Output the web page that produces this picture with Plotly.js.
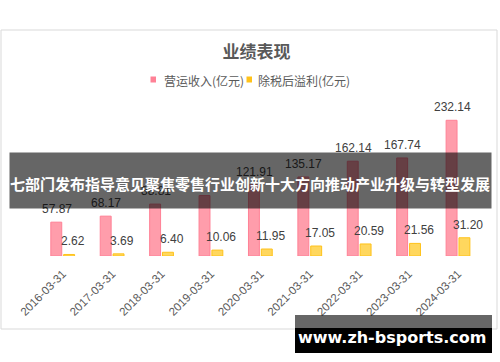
<!DOCTYPE html>
<html>
<head>
<meta charset="utf-8">
<script src="https://cdn.plot.ly/plotly-3.0.1.min.js"></script>
<style>html,body{margin:0;padding:0;background:#fff;}#chart{width:500px;height:362px;}</style>
</head>
<body>
<div id="chart"></div>
<script>
const categories = ["2016-03-31","2017-03-31","2018-03-31","2019-03-31","2020-03-31","2021-03-31","2022-03-31","2023-03-31","2024-03-31"];
const revenue = [57.87, 68.17, 88.81, 103.5, 121.91, 135.17, 162.14, 167.74, 232.14];
const revenueLabels = ["57.87","68.17","88.81","","121.91","135.17","162.14","167.74","232.14"];
const profit = [2.62, 3.69, 6.40, 10.06, 11.95, 17.05, 20.59, 21.56, 31.20];
const profitLabels = ["2.62","3.69","6.40","10.06","11.95","17.05","20.59","21.56","31.20"];
const seriesNames = ["营运收入(亿元)", "除税后溢利(亿元)"];
const seriesColors = ["#ff9dab", "#ffd75e"];
const seriesLineColors = ["#ff8196", "#ffc21a"];
const chartTitle = "业绩表现";
const bannerText = "七部门发布指导意见聚焦零售行业创新十大方向推动产业升级与转型发展";
const watermarkText = "www.zh-bsports.com";

const L = 38, R = 15, T = 104, B = 106, FW = 500, FH = 362;
const W = FW - L - R, H = FH - T - B;
const px = p => (p - L) / W;
const py = p => (FH - B - p) / H;

const font = "Liberation Sans, Arial, Noto Sans CJK SC, sans-serif";
const cjk = "Noto Sans CJK SC, sans-serif";

const traces = [
  {type: "bar", name: seriesNames[0], x: categories, y: revenue, showlegend: false,
   marker: {color: seriesColors[0], line: {color: seriesLineColors[0], width: 1}}, hoverinfo: "none"},
  {type: "bar", name: seriesNames[1], x: categories, y: profit, showlegend: false,
   marker: {color: seriesColors[1], line: {color: seriesLineColors[1], width: 1}}, hoverinfo: "none"}
];

const annotations = [];
categories.forEach((c, i) => {
  if (revenueLabels[i]) annotations.push({x: c, y: revenue[i], xref: "x", yref: "y", text: revenueLabels[i],
    showarrow: false, xshift: -6, yshift: 4, yanchor: "bottom", font: {size: 12, color: "#404040", family: font}});
  annotations.push({x: c, y: profit[i], xref: "x", yref: "y", text: profitLabels[i],
    showarrow: false, xshift: 10, yshift: 4, yanchor: "bottom", font: {size: 12, color: "#404040", family: font}});
});
// legend (custom, compact like the reference)
const legendText = [162, 256];
const legendBox = [150.5, 246.5];
seriesNames.forEach((n, i) => {
  annotations.push({xref: "paper", yref: "paper", x: px(legendText[i]), y: py(80.5), text: n, showarrow: false,
    xanchor: "left", yanchor: "middle", font: {size: 12, color: "#595959", family: cjk}});
});
// banner background drawn as annotation so it sits above the value labels
annotations.push({xref: "paper", yref: "paper", x: px(250.5), y: py(180.5), text: " ", showarrow: false,
  xanchor: "center", yanchor: "middle", width: 481, height: 55, borderpad: 0, bgcolor: "rgba(0,0,0,0.6)",
  font: {size: 12}});
annotations.push({xref: "paper", yref: "paper", x: px(250), y: py(183), text: bannerText, showarrow: false,
  xanchor: "center", yanchor: "middle", font: {size: 15, color: "#ffffff", family: cjk, weight: "bold"}});
annotations.push({xref: "paper", yref: "paper", x: px(392), y: py(337.5), text: watermarkText, showarrow: false,
  xanchor: "center", yanchor: "middle", font: {size: 16, color: "#ffffff", family: "DejaVu Sans, sans-serif", weight: "bold"}});

const shapes = [
  {type: "rect", xref: "paper", yref: "paper", x0: px(1), x1: px(497), y0: py(329), y1: py(30),
   line: {color: "#d9d9d9", width: 1}, fillcolor: "rgba(0,0,0,0)", layer: "below"},
  {type: "rect", xref: "paper", yref: "paper", x0: px(295), x1: px(492), y0: py(353), y1: py(315),
   line: {width: 0}, fillcolor: "rgba(0,0,0,0.6)", layer: "above"},
  {type: "rect", xref: "paper", yref: "paper", x0: px(295), x1: px(492), y0: py(353), y1: py(328),
   line: {width: 0}, fillcolor: "#000000", layer: "above"}
];
legendBox.forEach((x, i) => {
  shapes.push({type: "rect", xref: "paper", yref: "paper", x0: px(x), x1: px(x + 5.5), y0: py(82.5), y1: py(76.5),
    line: {width: 0}, fillcolor: seriesLineColors[i], layer: "above"});
});

const layout = {
  width: FW, height: FH,
  margin: {l: L, r: R, t: T, b: B, pad: 0},
  paper_bgcolor: "#ffffff", plot_bgcolor: "rgba(0,0,0,0)",
  font: {family: font, color: "#595959", size: 12},
  title: {text: chartTitle, xref: "container", yref: "container", x: 256.5 / FW, y: 1 - 52 / FH,
    xanchor: "center", yanchor: "middle", font: {size: 17, color: "#595959", family: cjk, weight: "bold"}},
  showlegend: false,
  barmode: "group", bargap: 0.48, bargroupgap: 0.15,
  xaxis: {type: "category", tickangle: -45, showgrid: false, zeroline: false, showline: false, ticks: "",
    ticklabelstandoff: 8, tickfont: {size: 11.5, color: "#595959", family: font}, fixedrange: true},
  yaxis: {range: [0, 260], visible: false, showgrid: false, zeroline: false, fixedrange: true},
  shapes: shapes,
  annotations: annotations
};

Plotly.newPlot("chart", traces, layout, {staticPlot: true, displayModeBar: false});
</script>
</body>
</html>
